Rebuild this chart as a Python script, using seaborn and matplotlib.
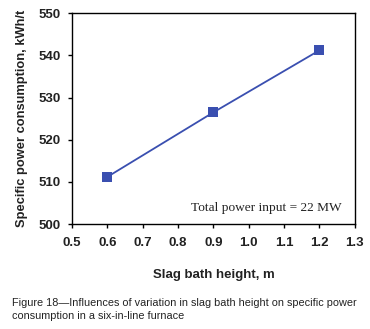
import numpy as np
import pandas as pd
import matplotlib.pyplot as plt
import seaborn as sns

sns.set_style('white')
plt.rcParams['font.family'] = ['Liberation Sans', 'DejaVu Sans']

# data
slag_height = [0.6, 0.9, 1.2]
power_consumption = [511.2, 526.5, 541.2]
x_ticks = [0.5, 0.6, 0.7, 0.8, 0.9, 1.0, 1.1, 1.2, 1.3]
y_ticks = [500, 510, 520, 530, 540, 550]

df = pd.DataFrame({'h': slag_height, 'spc': power_consumption})

fig = plt.figure(figsize=(3.7, 3.29), dpi=100)
ax = fig.add_axes([0.195, 0.319, 0.764, 0.641])

sns.lineplot(data=df, x='h', y='spc', ax=ax, color='#3a4fb0', lw=1.3,
             marker='s', markersize=7, markeredgewidth=0, markerfacecolor='#3a4fb0')

ax.set_xlim(0.5, 1.3)
ax.set_ylim(500, 550)
ax.set_xticks(x_ticks)
ax.set_yticks(y_ticks)
ax.set_xticklabels([f'{v:.1f}' for v in x_ticks], fontsize=9.5, fontweight='bold', color='#222222')
ax.set_yticklabels([str(v) for v in y_ticks], fontsize=9.5, fontweight='bold', color='#222222')
ax.tick_params(axis='x', direction='out', length=3, width=1, color='black', pad=6, bottom=True)
ax.tick_params(axis='y', direction='out', length=3, width=1, color='black', pad=5, left=True)

for s in ax.spines.values():
    s.set_color('black')
    s.set_linewidth(1)

ax.set_xlabel('Slag bath height, m', fontsize=9.5, fontweight='bold', labelpad=15, color='#222222')
ax.set_ylabel('Specific power consumption, kWh/t', fontsize=9.3, fontweight='bold', labelpad=8, color='#222222')

ax.text(0.954, 0.075, 'Total power input = 22 MW', transform=ax.transAxes,
        ha='right', va='center', fontsize=9.6, family='Liberation Serif', color='#222222')

fig.text(0.032, 0.059, 'Figure 18\u2014Influences of variation in slag bath height on specific power\nconsumption in a six-in-line furnace',
         fontsize=7.8, ha='left', va='center', color='#222222', linespacing=1.3)

fig.savefig('out.png', dpi=100)
